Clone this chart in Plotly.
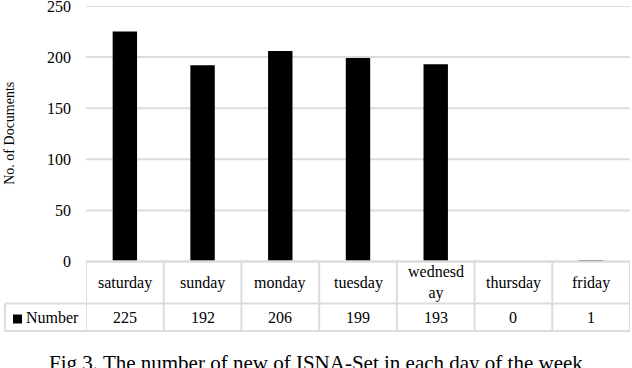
import plotly.graph_objects as go

days = ["saturday", "sunday", "monday", "tuesday", "wednesday", "thursday", "friday"]
day_labels = ["saturday", "sunday", "monday", "tuesday", "wednesd<br>ay", "thursday", "friday"]
counts = [225, 192, 206, 199, 193, 0, 1]
y_ticks = [0, 50, 100, 150, 200, 250]
series_name = "Number"
y_title = "No. of Documents"
caption = "Fig 3. The number of new of ISNA-Set in each day of the week"

W, H = 632, 368
FONT = "Liberation Serif"
GRID = "#dcdcdc"
LW = 2

def px(v):
    return v / W

def py(v):
    return (H - v) / H

x_left, x_right = 86, 630
y_zero, y_top = 261.5, 6
row1_bot, row2_bot = 303.5, 331
legend_left = 5

idx = list(range(len(days)))

fig = go.Figure()
fig.add_trace(go.Bar(x=idx, y=counts, marker=dict(color="black", line=dict(width=0)),
                     name=series_name, hoverinfo="skip"))

shapes = []
for t in y_ticks[1:]:
    shapes.append(dict(type="line", xref="paper", yref="y", x0=px(x_left), x1=px(x_right),
                       y0=t, y1=t, line=dict(color=GRID, width=LW), layer="below"))
shapes.append(dict(type="line", xref="paper", yref="paper", x0=px(x_left), x1=px(x_right),
                   y0=py(y_zero), y1=py(y_zero), line=dict(color=GRID, width=2.3)))
for yy in (row1_bot, row2_bot):
    shapes.append(dict(type="line", xref="paper", yref="paper", x0=px(legend_left), x1=px(x_right),
                       y0=py(yy), y1=py(yy), line=dict(color=GRID, width=LW)))
shapes.append(dict(type="line", xref="paper", yref="paper", x0=px(legend_left), x1=px(legend_left),
                   y0=py(row1_bot), y1=py(row2_bot), line=dict(color=GRID, width=LW)))
for i in range(len(days) + 1):
    shapes.append(dict(type="line", xref="x", yref="paper", x0=i - 0.5, x1=i - 0.5,
                       y0=py(y_zero), y1=py(row2_bot), line=dict(color=GRID, width=LW)))
shapes.append(dict(type="rect", xref="paper", yref="paper", x0=px(13), x1=px(22),
                   y0=py(314.5), y1=py(323.5), fillcolor="black", line=dict(width=0)))

annotations = []
row1_c = (y_zero + row1_bot) / 2
row2_c = (row1_bot + row2_bot) / 2
for i, lab in enumerate(day_labels):
    annotations.append(dict(x=i, xref="x", y=py(row1_c), yref="paper", text=lab, showarrow=False,
                            xanchor="center", yanchor="middle",
                            font=dict(family=FONT, size=16, color="black")))
    annotations.append(dict(x=i, xref="x", y=py(row2_c), yref="paper", text=str(counts[i]),
                            showarrow=False, xanchor="center", yanchor="middle",
                            font=dict(family=FONT, size=16, color="black")))
annotations.append(dict(x=px(24), xref="paper", y=py(row2_c), yref="paper", text=series_name,
                        showarrow=False, xanchor="left", yanchor="middle",
                        font=dict(family=FONT, size=16, color="black")))
annotations.append(dict(x=px(10), xref="paper", y=py((y_zero + y_top) / 2), yref="paper",
                        text=y_title, textangle=-90, showarrow=False, xanchor="center",
                        yanchor="middle", font=dict(family=FONT, size=14, color="black")))
annotations.append(dict(x=0.5, xref="paper", y=py(349), yref="paper", text=caption,
                        showarrow=False, xanchor="center", yanchor="top",
                        font=dict(family=FONT, size=21, color="black")))

fig.update_layout(
    width=W, height=H, autosize=False,
    margin=dict(l=0, r=0, t=0, b=0, pad=0),
    paper_bgcolor="white", plot_bgcolor="white",
    showlegend=False,
    bargap=0.686,
    xaxis=dict(domain=[px(x_left), px(x_right)], range=[-0.5, len(days) - 0.5],
               showticklabels=False, showgrid=False, zeroline=False, showline=False,
               automargin=False, fixedrange=True),
    yaxis=dict(domain=[py(y_zero), py(y_top)], range=[0, 250], tickvals=y_ticks,
               showgrid=False, zeroline=False, showline=False, automargin=False,
               ticks="", ticklabelstandoff=14, ticklabeloverflow="allow",
               tickfont=dict(family=FONT, size=16, color="black"), fixedrange=True),
    shapes=shapes,
    annotations=annotations,
)

fig.write_html("out.html", config={"displayModeBar": False},
               post_script="document.body.style.margin='0';document.body.style.overflow='hidden';")
